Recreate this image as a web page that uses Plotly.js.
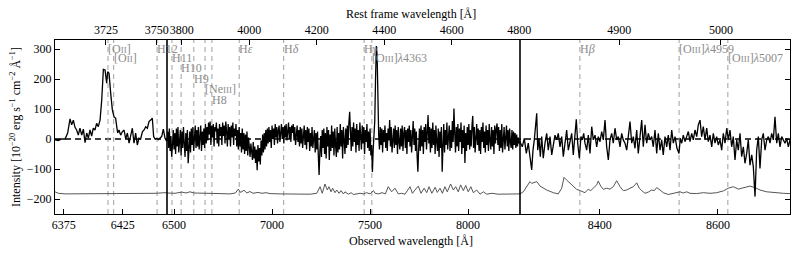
<!DOCTYPE html>
<html><head><meta charset="utf-8">
<script src="https://cdn.plot.ly/plotly-3.0.1.min.js"></script>
<style>html,body{margin:0;padding:0;background:#fff}</style>
</head><body><div id="chart" style="width:798px;height:255px"></div>
<script>
// redshift factor (1+z)
const zFactor = 1.721;

// observed-frame panel ranges (broken axis)
const obsRanges = [[6367.7, 6462.4], [6464, 8265], [8265, 8722]];
const panelDomains = [[0, 0.15238], [0.15238, 0.63265], [0.63265, 1]];
const bottomTicks = [[6375, 6425], [6500, 7000, 7500, 8000], [8400, 8600]];
const topTicks = [[3725, 3750], [3800, 4000, 4200, 4400, 4600, 4800], [4900, 5000]];
const yTicks = [-200, -100, 0, 100, 200, 300];

// spectrum, panel 1
const wave1 = [6367.7,6370.5,6373.3,6376.2,6378.4,6380.4,6381.8,6383.2,6384.6,6386.0,6387.4,6388.8,6390.3,6391.7,6393.1,6394.5,6395.9,6397.3,6398.7,6400.1,6401.5,6402.9,6404.3,6405.8,6407.2,6408.6,6410.0,6411.4,6412.2,6413.4,6414.8,6416.2,6417.6,6419.0,6419.9,6420.7,6421.8,6423.2,6424.6,6426.1,6427.5,6428.9,6430.3,6431.7,6433.1,6434.5,6435.9,6437.3,6438.7,6440.1,6441.6,6443.0,6444.4,6445.8,6447.2,6448.6,6450.0,6451.1,6452.3,6453.7,6455.1,6456.5,6457.9,6459.3,6460.7,6461.9];
const flux1 = [-3,-5,0,0,20,67,47,63,39,30,13,36,13,33,-12,20,3,30,10,36,30,52,41,63,130,232,230,186,224,219,152,97,74,69,41,20,30,13,24,30,0,20,-14,8,36,-14,20,-20,3,0,24,30,41,36,58,63,69,8,0,2,-2,3,8,33,3,-6];

// spectrum, panel 2
const wave2 = [6464,6468,6472,6476,6480,6484,6488,6492,6496,6500,
6504,6508,6512,6516,6520,6524,6528,6532,6536,6540,
6544,6548,6552,6556,6560,6564,6568,6572,6576,6580,
6584,6588,6592,6596,6600,6604,6608,6612,6616,6620,
6624,6628,6632,6636,6640,6644,6648,6652,6656,6660,
6664,6668,6672,6676,6680,6684,6688,6692,6696,6700,
6704,6708,6712,6716,6720,6724,6728,6732,6736,6740,
6744,6748,6752,6756,6760,6764,6768,6772,6776,6780,
6784,6788,6792,6796,6800,6804,6808,6812,6816,6820,
6824,6828,6832,6836,6840,6844,6848,6852,6856,6860,
6864,6868,6872,6876,6880,6884,6888,6892,6896,6900,
6904,6908,6912,6916,6920,6924,6928,6932,6936,6940,
6944,6948,6952,6956,6960,6964,6968,6972,6976,6980,
6984,6988,6992,6996,7000,7004,7008,7012,7016,7020,
7024,7028,7032,7036,7040,7044,7048,7052,7056,7060,
7064,7068,7072,7076,7080,7084,7088,7092,7096,7100,
7104,7108,7112,7116,7120,7124,7128,7132,7136,7140,
7144,7148,7152,7156,7160,7164,7168,7172,7176,7180,
7184,7188,7192,7196,7200,7204,7208,7212,7216,7220,
7224,7228,7232,7236,7240,7244,7248,7252,7256,7260,
7264,7268,7272,7276,7280,7284,7288,7292,7296,7300,
7304,7308,7312,7316,7320,7324,7328,7332,7336,7340,
7344,7348,7352,7356,7360,7364,7368,7372,7376,7380,
7384,7388,7392,7396,7400,7404,7408,7412,7416,7420,
7424,7428,7432,7436,7440,7444,7448,7452,7456,7460,
7464,7468,7472,7476,7480,7484,7488,7492,7496,7500,
7504,7508,7512,7516,7520,7524,7528,7532,7536,7540,
7544,7548,7552,7556,7560,7564,7568,7572,7576,7580,
7584,7588,7592,7596,7600,7604,7608,7612,7616,7620,
7624,7628,7632,7636,7640,7644,7648,7652,7656,7660,
7664,7668,7672,7676,7680,7684,7688,7692,7696,7700,
7704,7708,7712,7716,7720,7724,7728,7732,7736,7740,
7744,7748,7752,7756,7760,7764,7768,7772,7776,7780,
7784,7788,7792,7796,7800,7804,7808,7812,7816,7820,
7824,7828,7832,7836,7840,7844,7848,7852,7856,7860,
7864,7868,7872,7876,7880,7884,7888,7892,7896,7900,
7904,7908,7912,7916,7920,7924,7928,7932,7936,7940,
7944,7948,7952,7956,7960,7964,7968,7972,7976,7980,
7984,7988,7992,7996,8000,8004,8008,8012,8016,8020,
8024,8028,8032,8036,8040,8044,8048,8052,8056,8060,
8064,8068,8072,8076,8080,8084,8088,8092,8096,8100,
8104,8108,8112,8116,8120,8124,8128,8132,8136,8140,
8144,8148,8152,8156,8160,8164,8168,8172,8176,8180,
8184,8188,8192,8196,8200,8204,8208,8212,8216,8220,
8224,8228,8232,8236,8240,8244,8248,8252,8256,8260,
8264];
const flux2 = [-5,25,-30,35,-40,10,-59,-20,30,-35,
20,-50,35,-25,40,-45,5,30,-55,25,
-30,40,-15,-60,20,-40,30,-81,-35,25,
-45,35,-20,40,-40,15,45,-30,30,-25,
40,-35,10,45,-40,25,-20,35,-30,50,
-15,40,-5,55,15,58,-20,45,5,50,
-25,40,25,55,-15,35,-25,50,10,40,
-20,55,10,45,-15,58,25,-25,50,0,
40,-25,45,5,55,-20,35,10,50,-25,
30,-35,40,-25,20,-45,35,-35,20,-50,
15,-40,25,-55,5,-30,-60,-15,-50,-70,
-10,-65,-25,-80,-35,-104,-20,-75,-30,-85,
-5,-55,15,-45,20,-35,30,-25,35,-15,
40,-10,30,-30,45,0,35,-20,50,5,
40,-15,30,45,-10,35,50,0,40,-15,
45,5,50,-5,35,55,0,40,-10,45,
20,50,-5,40,-20,35,45,-10,30,-25,
40,-15,35,-30,25,45,-20,30,-35,40,
-10,35,-40,20,-25,40,-30,15,30,-45,
20,-35,25,-55,-120,-40,10,-60,30,-30,
35,-50,20,-65,40,-25,30,-70,15,-40,
45,-30,25,-55,35,-20,-60,40,-45,20,
-35,50,-25,30,-65,40,-10,-50,35,-30,
45,-20,55,91,25,-40,40,-25,55,-10,
35,-45,50,-20,30,-40,55,-5,-35,45,
-15,40,-50,30,-10,50,-30,25,-40,35,
-55,-20,-110,-35,0,60,200,310,280,120,
15,-35,40,-20,35,-45,30,-10,45,-30,
20,-40,35,-5,63,-25,40,-45,25,35,
-30,45,-20,30,-50,40,-10,-35,35,-25,
45,-40,20,40,-30,30,-50,35,-10,45,
-25,30,-45,20,60,-20,35,-40,25,-55,
-109,-30,35,-40,45,-25,30,-50,40,-10,
50,-35,25,80,-15,40,-45,35,-30,55,
-20,30,-50,45,-10,-40,35,-60,25,-30,
40,-109,-25,50,-45,30,-20,55,-35,25,
45,-40,30,-30,60,-10,102,20,-45,40,
-25,50,-40,35,-10,55,-50,30,-30,45,
-80,20,-40,40,-20,50,-35,30,-25,45,
77,-30,40,-45,25,50,-20,35,-40,30,
-50,40,-10,55,-30,25,-45,45,-20,30,
-40,50,-5,-35,40,-25,30,-50,45,-15,
35,52,-20,40,-40,30,-30,50,-45,25,
40,-35,20,45,-25,30,-40,35,-10,-30,
30,-35,25,-20,20,-30,15,-25,5,-15,
-5];

// spectrum, panel 3
const wave3 = [8268.9,8272.3,8275.7,8279.0,8281.9,8284.8,8287.0,8289.2,8293.3,8295.0,8297.2,8299.4,8301.7,8304.4,8307.3,8310.2,8312.9,8315.8,8318.7,8321.4,8324.2,8327.1,8329.8,8332.7,8335.6,8338.3,8341.2,8344.0,8346.8,8349.6,8352.5,8355.2,8358.1,8360.3,8362.7,8365.4,8368.2,8370.5,8372.8,8375.0,8377.9,8380.6,8383.5,8386.4,8389.1,8392.0,8394.8,8397.5,8400.4,8403.3,8406.0,8408.9,8411.7,8414.5,8417.3,8420.2,8422.9,8425.8,8428.7,8431.4,8434.3,8437.1,8439.8,8442.7,8445.6,8448.3,8451.2,8454.1,8456.8,8459.6,8462.5,8465.2,8468.1,8471.0,8473.7,8476.6,8479.4,8482.2,8485.0,8487.9,8490.6,8493.5,8496.4,8499.1,8502.0,8504.8,8507.5,8510.4,8513.3,8516.0,8518.9,8521.8,8524.5,8527.4,8530.7,8534.1,8536.3,8538.7,8541.4,8544.3,8547.1,8549.9,8552.7,8555.6,8558.3,8561.2,8564.1,8566.8,8569.7,8572.5,8575.3,8578.1,8581.0,8583.7,8586.6,8589.5,8592.2,8595.1,8597.9,8600.6,8603.5,8606.4,8609.1,8612.0,8614.9,8617.6,8620.4,8623.3,8626.0,8628.9,8631.8,8634.5,8637.4,8640.2,8643.0,8645.8,8648.7,8651.4,8654.3,8657.2,8659.9,8662.8,8665.6,8668.4,8671.2,8674.1,8676.8,8679.7,8682.6,8685.3,8688.2,8691.0,8693.8,8696.6,8699.5,8702.2,8705.1,8708.0,8710.7,8713.6,8716.4,8719.2,8722.0];
const flux3 = [-26,2,-48,-14,-59,-103,-37,-3,86,-37,2,-59,8,-64,-14,19,-37,8,-53,-14,13,-3,19,-26,8,-59,-3,30,-37,-3,19,-53,30,66,-14,-64,8,-3,19,-14,-37,13,-48,41,-3,13,-26,8,-9,25,-3,63,-26,-70,-3,19,-14,36,-3,8,-26,19,-3,-14,-37,19,58,-14,8,-31,30,-48,2,63,-26,47,-14,19,-3,8,-26,30,-48,19,-37,-3,-53,8,-26,13,-37,30,-14,8,-31,-48,2,-14,13,-9,8,25,-9,19,-3,30,8,47,63,8,41,-3,36,-9,13,-26,19,-14,8,-20,-3,-37,19,-14,36,-3,30,-26,8,-70,-3,-37,19,-59,-26,-81,-48,-3,-87,-53,-92,-192,-37,8,-98,-3,19,-37,-3,8,-14,19,-3,74,-14,19,-26,8,-3,-14,2,-26,-3];

// noise (error) spectrum, drawn offset below
const errWave = [6367.7,6370.5,6376.2,6405.8,6439.6,6452.3,6460.7,
6464,6505,6540,6561,6581,6602,6632,6683,6734,6785,6813,6828,6839,6857,6872,6887,6903,6928,6949,6969,6990,7041,7117,7194,7228,7245,7256,7270,7282,7290,7301,7309,7321,7330,7342,7352,7364,7372,7389,7403,7415,7433,7449,7466,7483,7500,7517,7526,7543,7561,7578,7593,7610,7627,7644,7661,7678,7704,7716,7729,7746,7760,7776,7789,7801,7815,7832,7843,7857,7869,7882,7894,7911,7925,7937,7950,7962,7976,7988,8001,8014,8027,8044,8061,8078,8095,8122,8153,8188,8239,8260,
8265,8270.6,8276.3,8281.9,8284.8,8287.5,8293.3,8298.9,8304.4,8310.2,8321.4,8329.8,8335.6,8339.5,8344,8349.6,8355.2,8361,8366.6,8375,8377.9,8380.6,8384.7,8389,8394.8,8397.5,8401.6,8406,8411.7,8417.3,8422.9,8428.7,8434.3,8439.8,8445.6,8451.2,8456.8,8462.5,8466.9,8471,8476.6,8482.2,8487.9,8492.5,8496.4,8502,8507.5,8516,8524.5,8530.2,8535.8,8541.4,8547.1,8552.7,8564,8575.3,8586.6,8597.9,8609.2,8617.6,8626.1,8634.5,8643,8654.3,8662.7,8671.2,8682.5,8693.8,8710.7,8722];
const errFlux = [-176,-181,-183,-183,-182,-181,-179,
-180,-181,-177,-180,-176,-180,-181,-182,-182,-183,-180,-167,-178,-171,-180,-175,-181,-178,-181,-179,-182,-183,-184,-184,-181,-159,-181,-150,-170,-159,-176,-164,-179,-170,-181,-172,-183,-176,-184,-179,-185,-183,-181,-183,-179,-183,-172,-181,-183,-179,-183,-159,-176,-164,-183,-181,-184,-159,-181,-170,-157,-181,-164,-179,-159,-181,-161,-178,-164,-181,-159,-176,-150,-170,-159,-176,-153,-172,-155,-176,-159,-179,-170,-184,-176,-184,-181,-184,-184,-185,-184,
-183,-176,-157,-142,-148,-146,-142,-157,-164,-170,-179,-183,-164,-128,-137,-148,-159,-168,-172,-179,-172,-168,-172,-164,-153,-140,-157,-168,-164,-167,-159,-139,-159,-172,-170,-164,-159,-146,-164,-172,-181,-177,-170,-172,-162,-170,-179,-185,-181,-178,-176,-180,-176,-181,-182,-179,-181,-179,-173,-164,-159,-167,-162,-157,-162,-170,-176,-179,-181,-182];

// emission lines (rest frame, Å)
const lineRest = [3726.03, 3728.82, 3750.15, 3770.63, 3797.90, 3835.39, 3868.76, 3889.05, 3970.07, 4101.74, 4340.47, 4363.21, 4861.33, 4958.91, 5006.84];
const sc = s => '<span style="font-size:9px">' + s + '</span>';
const lineNames = ['[O' + sc('II') + ']', '[O' + sc('II') + ']', 'H12', 'H11', 'H10', 'H9', '[Ne' + sc('III') + ']', 'H8',
  'H<i>ε</i>', 'H<i>δ</i>', 'H<i>γ</i>', '[O' + sc('III') + ']<i>λ</i>4363', 'H<i>β</i>', '[O' + sc('III') + ']<i>λ</i>4959', '[O' + sc('III') + ']<i>λ</i>5007'];
const lineLevel = [0, 1, 0, 1, 2, 3, 4, 5, 0, 0, 0, 1, 0, 0, 1];
const levelY = [0.948, 0.894, 0.8391, 0.776, 0.716, 0.655];

const FONT = 'Liberation Serif, Times New Roman, serif';
const bx = ['x', 'x2', 'x3'];
const tx = ['x4', 'x5', 'x6'];

const specWave = wave1.concat(wave2, wave3);
const specFlux = flux1.concat(flux2, flux3);

const traces = [];
for (let i = 0; i < 3; i++) {
  traces.push({x: errWave, y: errFlux, xaxis: bx[i], yaxis: 'y', mode: 'lines',
    line: {color: '#555555', width: 1}, hoverinfo: 'skip', showlegend: false});
  traces.push({x: specWave, y: specFlux, xaxis: bx[i], yaxis: 'y', mode: 'lines',
    line: {color: '#000000', width: 1.3}, hoverinfo: 'skip', showlegend: false});
  traces.push({x: [], y: [], xaxis: tx[i], yaxis: 'y', mode: 'lines', showlegend: false});
}
traces.push({x: [], y: [], xaxis: 'x3', yaxis: 'y2', mode: 'lines', showlegend: false});

const tickFont = {family: FONT, size: 12, color: '#000'};
const common = {ticks: 'inside', ticklen: 5, tickwidth: 1, tickcolor: '#000', showline: true,
  linecolor: '#000', linewidth: 1, showgrid: false, zeroline: false, tickfont: tickFont, tickmode: 'array'};

const layout = {
  width: 798, height: 255,
  margin: {l: 55, r: 8, t: 40, b: 41, pad: 0},
  paper_bgcolor: '#fff', plot_bgcolor: '#fff',
  font: {family: FONT, size: 12, color: '#000'},
  showlegend: false,
  yaxis: Object.assign({}, common, {range: [-250, 330], anchor: 'x', tickvals: yTicks, domain: [0, 1]}),
  yaxis2: Object.assign({}, common, {range: [-250, 330], anchor: 'x3', overlaying: 'y', side: 'right',
    tickvals: yTicks, showticklabels: false}),
  shapes: [], annotations: []
};
for (let i = 0; i < 3; i++) {
  const k = i === 0 ? '' : String(i + 1);
  layout['xaxis' + k] = Object.assign({}, common, {domain: panelDomains[i], range: obsRanges[i], anchor: 'y',
    tickvals: bottomTicks[i]});
  layout['xaxis' + (i + 4)] = Object.assign({}, common, {overlaying: bx[i], side: 'top', anchor: 'y',
    range: obsRanges[i].map(v => v / zFactor), tickvals: topTicks[i]});
}

// zero line
layout.shapes.push({type: 'line', xref: 'paper', yref: 'y', x0: 0, x1: 1, y0: 0, y1: 0, layer: 'below',
  line: {color: '#000', width: 1.3, dash: '6px,4px'}});
// emission-line markers and labels
lineRest.forEach((r, j) => {
  const obs = r * zFactor;
  let p = 0;
  for (let i = 0; i < 3; i++) if (obs >= obsRanges[i][0] && obs <= obsRanges[i][1]) p = i;
  layout.shapes.push({type: 'line', xref: bx[p], yref: 'paper', x0: obs, x1: obs, y0: 0, y1: 1, layer: 'below',
    line: {color: '#a8a8a8', width: 1.1, dash: '5px,4px'}});
  layout.annotations.push({xref: tx[p], yref: 'paper', x: r, y: levelY[lineLevel[j]], text: lineNames[j],
    showarrow: false, xanchor: 'left', yanchor: 'middle', xshift: -2,
    font: {family: FONT, size: 12, color: '#8c8c8c'}});
});
// panel break lines
[panelDomains[0][1], panelDomains[1][1]].forEach(d => {
  layout.shapes.push({type: 'line', xref: 'paper', yref: 'paper', x0: d, x1: d, y0: 0, y1: 1, layer: 'above',
    line: {color: '#000', width: 1.6}});
});
// axis titles
layout.annotations.push({xref: 'paper', yref: 'paper', x: 0.4844, y: -0.155, yanchor: 'middle', xanchor: 'center',
  showarrow: false, text: 'Observed wavelength [Å]', font: {family: FONT, size: 12, color: '#000'}});
layout.annotations.push({xref: 'paper', yref: 'paper', x: 0.4844, y: 1.149, yanchor: 'middle', xanchor: 'center',
  showarrow: false, text: 'Rest frame wavelength [Å]', font: {family: FONT, size: 12, color: '#000'}});
layout.annotations.push({xref: 'paper', yref: 'paper', x: -0.0544, y: 0.5, xanchor: 'center', yanchor: 'middle',
  showarrow: false, textangle: -90,
  text: 'Intensity [10<sup>−20</sup> erg s<sup>−1</sup> cm<sup>−2</sup> Å<sup>−1</sup>]',
  font: {family: FONT, size: 12, color: '#000'}});

Plotly.newPlot('chart', traces, layout, {staticPlot: true, displayModeBar: false});
</script></body></html>
